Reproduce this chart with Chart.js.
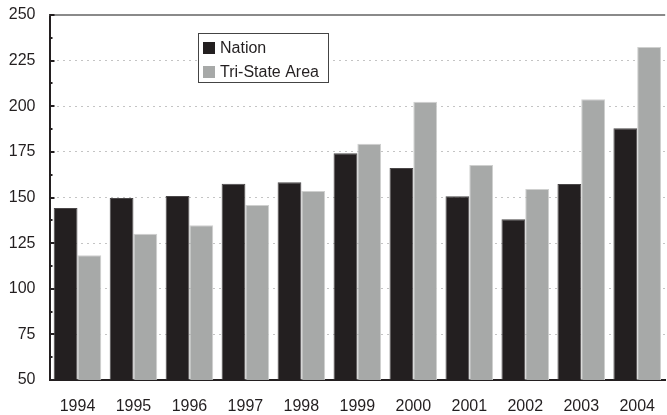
<!DOCTYPE html>
<html>
<head>
<meta charset="utf-8">
<title>Nation vs Tri-State Area</title>
<script src="https://cdn.jsdelivr.net/npm/chart.js@4"></script>
<style>
  html, body { margin: 0; padding: 0; background: #fff; overflow: hidden; }
  #wrap { width: 667px; height: 415px; overflow: hidden; }
</style>
</head>
<body>
<div id="wrap"><canvas id="barChart" width="672" height="415"></canvas></div>
<script>
// Chart data
const years = ['1994', '1995', '1996', '1997', '1998', '1999', '2000', '2001', '2002', '2003', '2004'];
const nation = [144.2, 149.7, 150.8, 157.5, 158.3, 174.2, 166.1, 150.7, 138.1, 157.4, 187.9];
const triState = [118.3, 130.2, 134.8, 145.9, 153.6, 179.5, 202.5, 167.8, 154.7, 203.8, 232.5];
const yTicks = [50, 75, 100, 125, 150, 175, 200, 225, 250];

const FONT = "'Liberation Sans', Arial, sans-serif";
const INK = '#231f20';

// Top frame line + inward tick marks on the left axis
const framePlugin = {
  id: 'frame',
  afterDraw(chart) {
    const { ctx, chartArea } = chart;
    const y = chart.scales.y;
    ctx.save();
    ctx.strokeStyle = '#8a8a8a';
    ctx.lineWidth = 2;
    ctx.beginPath();
    ctx.moveTo(chartArea.left, chartArea.top);
    ctx.lineTo(chartArea.right, chartArea.top);
    ctx.stroke();

    ctx.strokeStyle = INK;
    ctx.lineWidth = 2;
    for (let v = yTicks[0]; v <= yTicks[yTicks.length - 1]; v += 12.5) {
      const py = Math.round(y.getPixelForValue(v));
      const len = v % 25 === 0 ? 5 : 3;
      ctx.beginPath();
      ctx.moveTo(chartArea.left, py);
      ctx.lineTo(chartArea.left + len, py);
      ctx.stroke();
    }
    ctx.restore();
  }
};

// Boxed legend inside the plot
const legendBoxPlugin = {
  id: 'legendBox',
  afterDraw(chart) {
    const { ctx } = chart;
    const x = 198, top = 33, w = 130, h = 49;
    ctx.save();
    ctx.fillStyle = '#fff';
    ctx.fillRect(x, top, w, h);
    ctx.strokeStyle = '#444';
    ctx.lineWidth = 1;
    ctx.strokeRect(x + 0.5, top + 0.5, w, h);
    ctx.font = '16px ' + FONT;
    ctx.textBaseline = 'middle';
    chart.data.datasets.forEach((ds, i) => {
      const cy = top + 15 + i * 24;
      ctx.fillStyle = ds.backgroundColor;
      ctx.fillRect(x + 5, cy - 6, 12, 12);
      ctx.fillStyle = INK;
      ctx.fillText(ds.label, x + 22, cy + 1);
    });
    ctx.restore();
  }
};

const ctx = document.getElementById('barChart').getContext('2d');
new Chart(ctx, {
  type: 'bar',
  data: {
    labels: years,
    datasets: [
      {
        label: 'Nation',
        data: nation,
        backgroundColor: INK,
        borderColor: '#4a4748',
        borderWidth: 1,
        categoryPercentage: 0.85,
        barPercentage: 1
      },
      {
        label: 'Tri-State Area',
        data: triState,
        backgroundColor: '#a7a9a8',
        borderColor: '#cfd0cf',
        borderWidth: 1,
        categoryPercentage: 0.85,
        barPercentage: 1
      }
    ]
  },
  options: {
    responsive: false,
    animation: false,
    layout: { padding: { top: 15, right: 0, left: 0, bottom: 0 } },
    plugins: {
      legend: { display: false },
      tooltip: { enabled: false }
    },
    scales: {
      x: {
        grid: { display: false, drawTicks: false },
        border: { color: INK, width: 2 },
        ticks: { color: INK, font: { family: FONT, size: 16 }, padding: 17, maxRotation: 0 },
        afterFit(scale) { scale.height = 35; }
      },
      y: {
        min: 50,
        max: 250,
        afterBuildTicks(scale) { scale.ticks = yTicks.map(v => ({ value: v })); },
        grid: {
          drawTicks: false,
          color: c => (c.tick.value === 50 || c.tick.value === 250) ? 'rgba(0,0,0,0)' : '#c4c4c4',
          lineWidth: 1
        },
        border: { color: INK, width: 2, dash: [2, 4] },
        ticks: { color: INK, font: { family: FONT, size: 16 }, padding: 14 },
        afterFit(scale) {
          scale.width = 49.5;
          scale.paddingTop = 0;
          scale.paddingBottom = 0;
        }
      }
    }
  },
  plugins: [framePlugin, legendBoxPlugin]
});
</script>
</body>
</html>
